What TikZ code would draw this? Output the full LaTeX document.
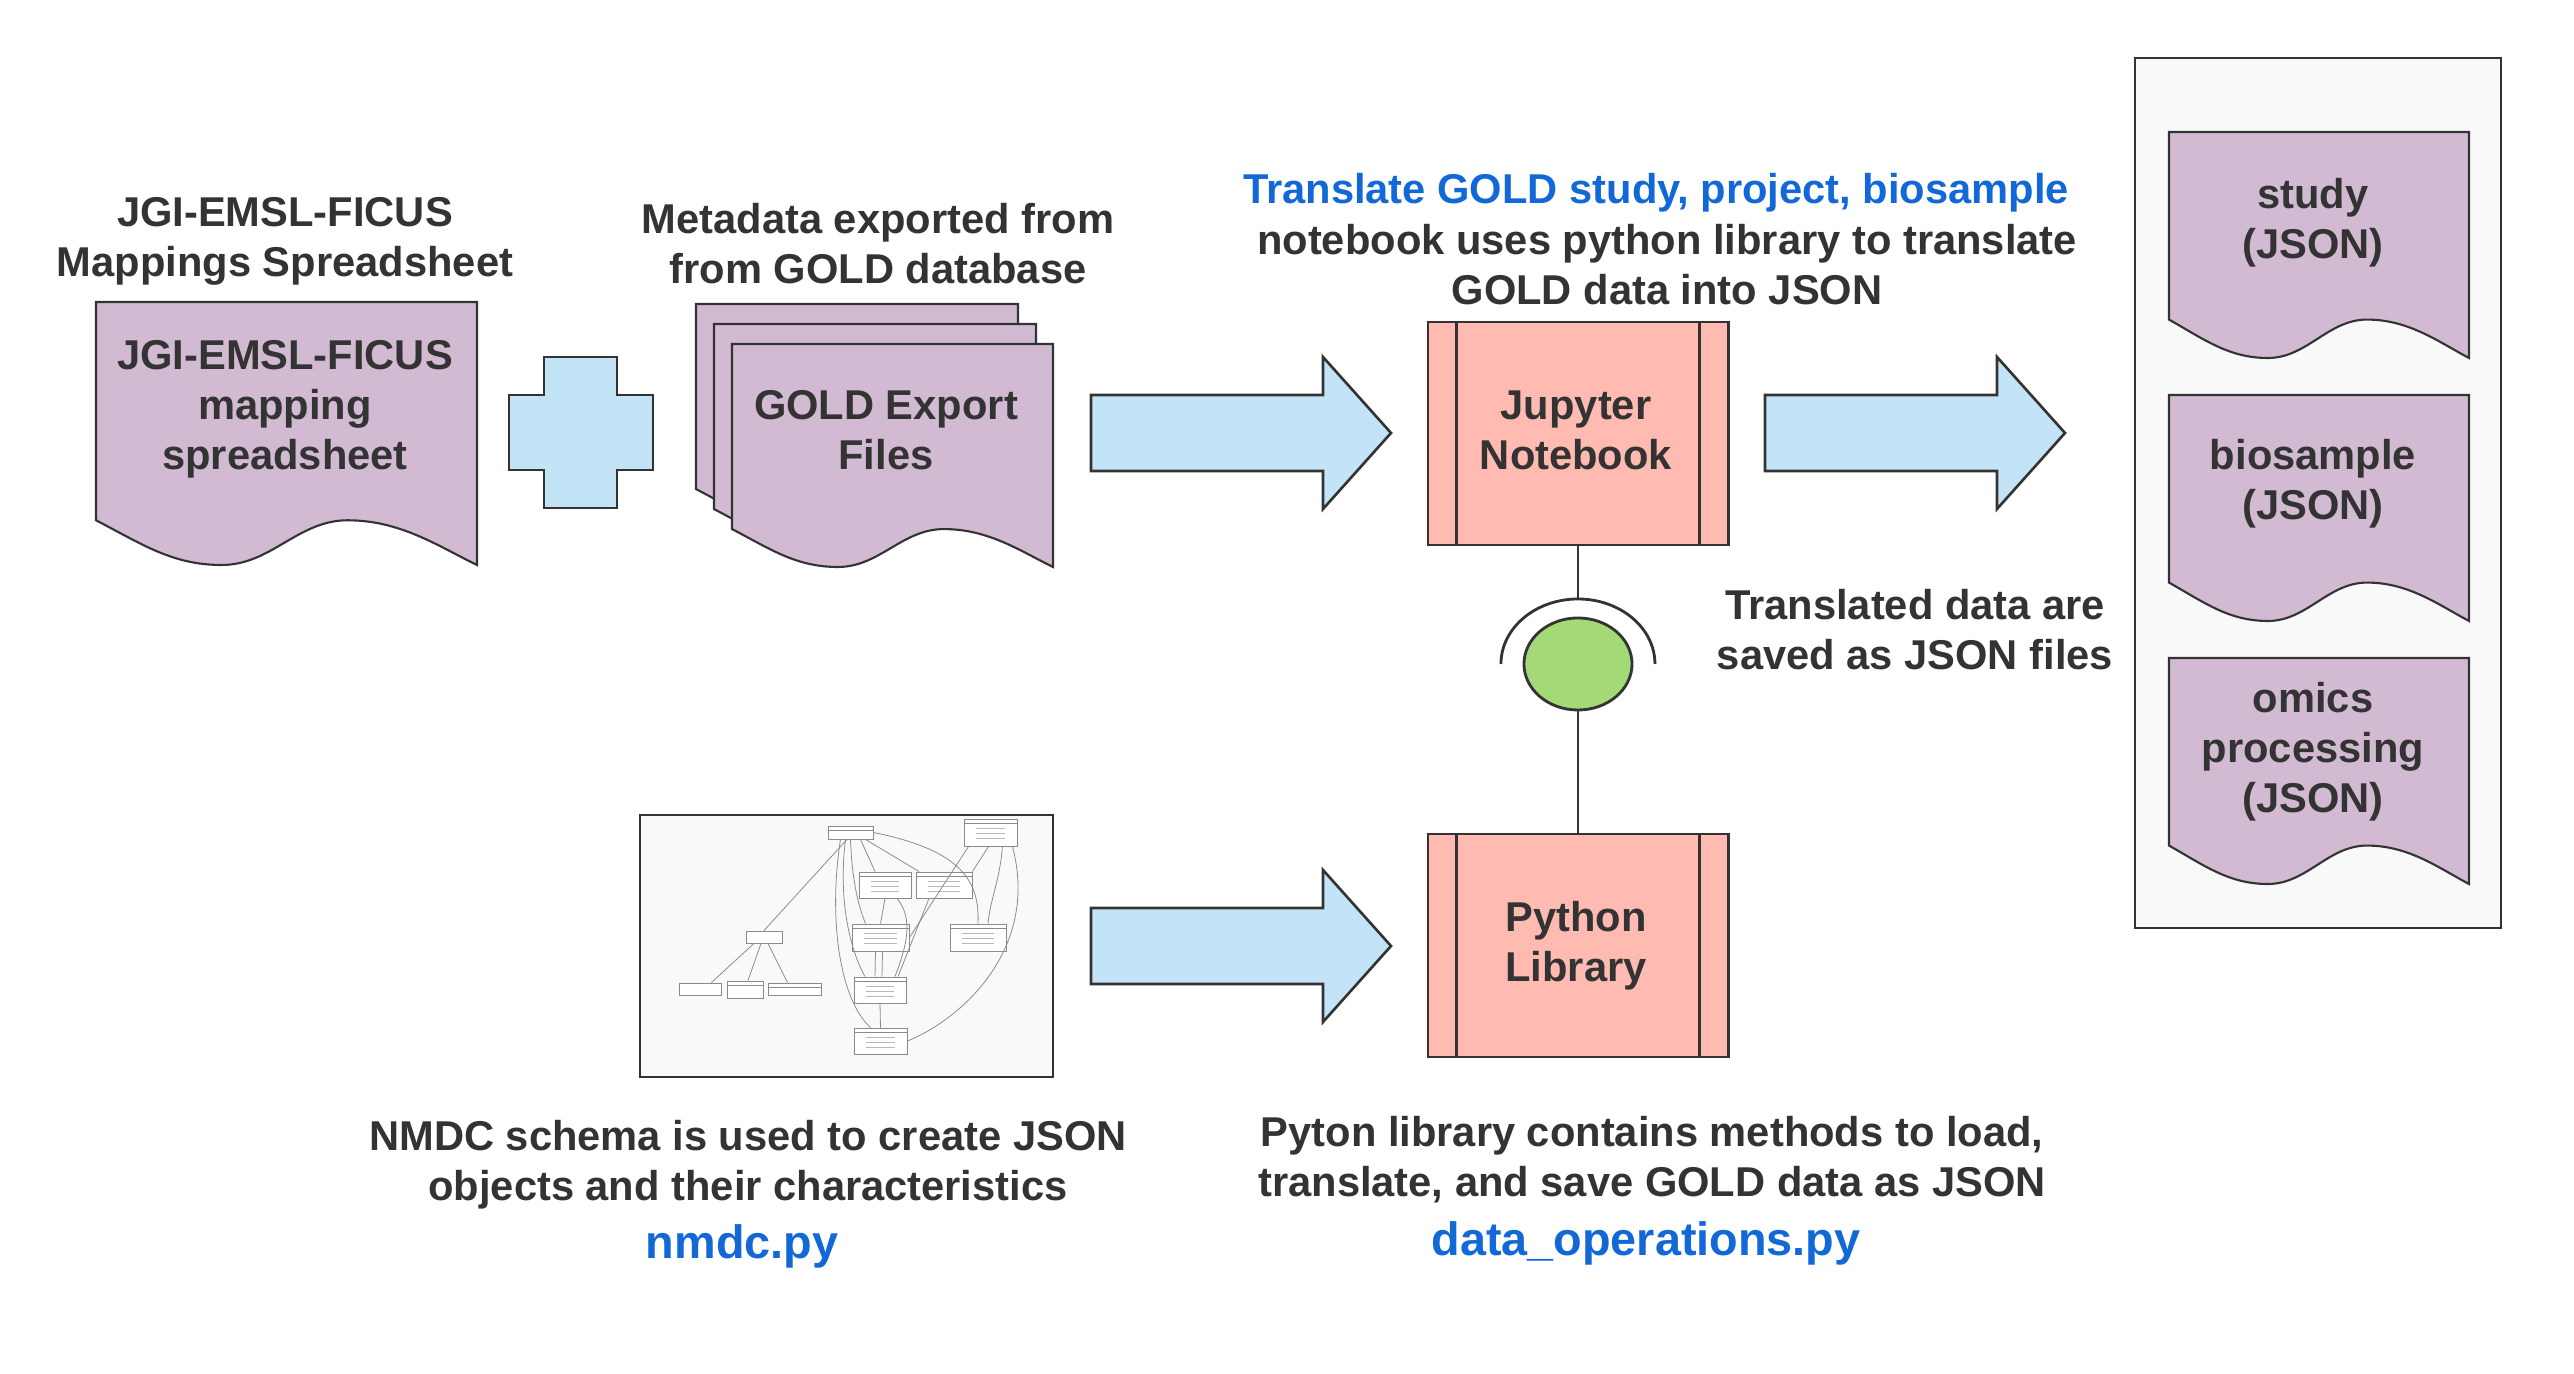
\documentclass[tikz,border=0pt]{standalone}
\usepackage{fontspec}
\setmainfont{Liberation Sans}
\usetikzlibrary{shapes.geometric}
\definecolor{ink}{HTML}{333333}
\definecolor{docpurple}{HTML}{D2BAD2}
\definecolor{salmon}{HTML}{FFBBB1}
\definecolor{lblue}{HTML}{C3E4F6}
\definecolor{lgreen}{HTML}{A3D977}
\definecolor{pane}{HTML}{F9F9F9}
\definecolor{linkblue}{HTML}{1368D8}
\definecolor{schemagray}{HTML}{8A8A8A}
\tikzset{
  docstyle/.style={fill=docpurple, draw=ink, line width=0.6pt},
  arrstyle/.style={fill=lblue, draw=ink, line width=0.75pt, line join=miter},
  pics/docshape/.style 2 args={code={
    \path[docstyle] (0,0) -- (#1,0) -- (#1,#2)
      .. controls ({0.9*#1},{0.93*#2}) and ({0.8*#1},{0.83*#2}) .. ({0.66*#1},{0.83*#2})
      .. controls ({0.53*#1},{0.83*#2}) and ({0.46*#1},{#2}) .. ({0.33*#1},{#2})
      .. controls ({0.2*#1},{#2}) and ({0.12*#1},{0.92*#2}) .. (0,{0.83*#2}) -- cycle;
  }},
  pics/blockarrow/.style={code={
    \path[arrstyle] (0,-38) -- (232,-38) -- (232,-76) -- (300,0) -- (232,76) -- (232,38) -- (0,38) -- cycle;
  }}
}
\begin{document}
\begin{tikzpicture}[x=0.01cm,y=-0.01cm,
  txt/.style={font=\fontsize{11.85}{14.2}\selectfont\bfseries, text=ink, align=center, inner sep=0pt},
  bluetxt/.style={txt, text=linkblue},
  bigblue/.style={bluetxt, font=\fontsize{13.3}{16}\selectfont\bfseries},
  procbox/.style={fill=salmon, draw=ink, line width=0.8pt, minimum width=3cm, minimum height=2.23cm, inner sep=0pt},
  conn/.style={draw=ink, line width=0.8pt},
  tinybox/.style={draw=schemagray, fill=white, line width=0.25pt, inner sep=0pt, rectangle},
  tinyline/.style={draw=schemagray, line width=0.22pt}
]
\useasboundingbox[fill=white] (0,0) rectangle (2574,1374);

% ---- left spreadsheet document
\node[txt] (hdrmap) at (285,241) {JGI-EMSL-FICUS\\Mappings Spreadsheet};
\pic at (96,302) {docshape={381}{263}};
\node[txt] (docmap) at (285,409) {JGI-EMSL-FICUS\\mapping\\spreadsheet};

% ---- plus sign
\path[arrstyle] (544,357) -- (617,357) -- (617,395) -- (653,395) -- (653,470) -- (617,470)
  -- (617,508) -- (544,508) -- (544,470) -- (509,470) -- (509,395) -- (544,395) -- cycle;

% ---- GOLD export files (stack)
\node[txt] (hdrgold) at (878,244) {Metadata exported from\\from GOLD database};
\pic at (696,304) {docshape={322}{223}};
\pic at (714,324) {docshape={322}{223}};
\pic at (732,344) {docshape={321}{223}};
\node[txt] (docgold) at (886,430) {GOLD Export\\Files};

% ---- block arrows
\pic at (1091,433) {blockarrow};
\pic at (1765,433) {blockarrow};
\pic at (1091,946) {blockarrow};

% ---- Jupyter notebook
\node[bluetxt] (hdrblue) at (1656,193) {Translate GOLD study, project, biosample};
\node[txt] (hdrjup) at (1667,265) {notebook uses python library to translate\\GOLD data into JSON};
\node[procbox] (jup) at (1578,433.5) {};
\node[txt] (juptxt) at (1576,430) {Jupyter\\Notebook};
\draw[conn] ([xshift=0.3cm]jup.north west) -- ([xshift=0.3cm]jup.south west);
\draw[conn] ([xshift=-0.3cm]jup.north east) -- ([xshift=-0.3cm]jup.south east);

% ---- lollipop interface
\node[ellipse, fill=lgreen, draw=ink, line width=0.8pt, minimum width=1.08cm, minimum height=0.92cm, inner sep=0pt] (ball) at (1578,664) {};
\coordinate (sockettop) at (1578,599);
\draw[conn] ([xshift=-0.77cm]ball.center) arc[start angle=180, end angle=360, x radius=77, y radius=65];
\draw[conn] (jup.south) -- (sockettop);

% ---- Python library
\node[procbox] (py) at (1578,945.5) {};
\node[txt] (pytxt) at (1576,946) {Python\\Library};
\draw[conn] ([xshift=0.3cm]py.north west) -- ([xshift=0.3cm]py.south west);
\draw[conn] ([xshift=-0.3cm]py.north east) -- ([xshift=-0.3cm]py.south east);
\draw[conn] (ball.south) -- (py.north);

\node[txt] (savednote) at (1915,630) {Translated data are\\saved as JSON files};

% ---- JSON output pane
\path[fill=pane, draw=ink, line width=0.8pt] (2135,58) rectangle (2501,928);
\pic at (2169,132) {docshape={300}{226}};
\pic at (2169,395) {docshape={300}{226}};
\pic at (2169,658) {docshape={300}{226}};
\node[txt] (jstudy) at (2313,223) {study\\(JSON)};
\node[txt] (jbio) at (2313,484) {biosample\\(JSON)};
\node[txt] (jomics) at (2313,752) {omics\\processing\\(JSON)};

% ---- NMDC schema thumbnail
\path[fill=pane, draw=ink, line width=0.6pt] (640,815) rectangle (1053,1077);
\node[tinybox, minimum width=0.45cm, minimum height=0.13cm] (sAnn) at (850.5,832.5) {};
\node[tinybox, minimum width=0.53cm, minimum height=0.27cm] (sNamed) at (990.5,832.5) {};
\node[tinybox, minimum width=0.52cm, minimum height=0.26cm] (sBio) at (885,885) {};
\node[tinybox, minimum width=0.56cm, minimum height=0.26cm] (sData) at (944,885) {};
\node[tinybox, minimum width=0.36cm, minimum height=0.12cm] (sAttr) at (764,937) {};
\node[tinybox, minimum width=0.57cm, minimum height=0.27cm] (sBP) at (880.5,937.5) {};
\node[tinybox, minimum width=0.56cm, minimum height=0.27cm] (sChar) at (978,937.5) {};
\node[tinybox, minimum width=0.42cm, minimum height=0.12cm] (sCTV) at (700,989) {};
\node[tinybox, minimum width=0.36cm, minimum height=0.17cm] (sGeo) at (745,989.5) {};
\node[tinybox, minimum width=0.53cm, minimum height=0.12cm] (sQV) at (794.5,989) {};
\node[tinybox, minimum width=0.52cm, minimum height=0.26cm] (sOmics) at (880,990) {};
\node[tinybox, minimum width=0.53cm, minimum height=0.26cm] (sStudy) at (880.5,1041) {};
\foreach \n in {sAnn,sNamed,sBio,sData,sBP,sChar,sGeo,sQV,sOmics,sStudy}{
  \draw[tinyline] ([yshift=-0.05cm]\n.north west) -- ([yshift=-0.05cm]\n.north east);
}
\foreach \n in {sNamed,sBio,sData,sBP,sChar,sOmics,sStudy}{
  \foreach \k in {1,2,3}{
    \draw[tinyline, draw=schemagray!60] ([xshift=0.12cm,yshift=-0.05cm-\k*0.05cm]\n.north west) -- ([xshift=-0.12cm,yshift=-0.05cm-\k*0.05cm]\n.north east);
  }
}
\draw[tinyline] (sAttr.north) -- ([xshift=-0.035cm]sAnn.south);
\draw[tinyline] ([xshift=-0.1cm]sCTV.north east) -- ([xshift=-0.1cm]sAttr.south);
\draw[tinyline] ([xshift=0.03cm]sGeo.north) -- ([xshift=-0.03cm]sAttr.south);
\draw[tinyline] ([xshift=-0.07cm]sQV.north) -- ([xshift=0.04cm]sAttr.south);
\draw[tinyline] ([xshift=0.1cm]sAnn.south) -- ([xshift=-0.1cm]sBio.north);
\draw[tinyline] ([xshift=0.15cm]sAnn.south) -- ([xshift=-0.25cm]sData.north);
\draw[tinyline] (sAnn.east) .. controls (960,850) and (980,880) .. (sChar.north);
\draw[tinyline] ([xshift=0.05cm]sNamed.south west) -- (sBP.east);
\draw[tinyline] ([xshift=0.25cm]sNamed.south west) -- (sData.north east);
\draw[tinyline] ([xshift=-0.15cm]sNamed.south east) .. controls (1000,880) and (990,900) .. ([xshift=0.1cm]sChar.north);
\draw[tinyline] ([xshift=-0.05cm]sNamed.south east) .. controls (1040,950) and (960,1020) .. (sStudy.east);
\draw[tinyline] (sBio.south) -- (sBP.north);
\draw[tinyline] ([xshift=0.12cm]sBio.south) .. controls (915,920) and (905,950) .. ([xshift=0.15cm]sOmics.north);
\draw[tinyline] ([xshift=-0.15cm]sData.south) -- ([xshift=0.18cm]sOmics.north);
\draw[tinyline] ([xshift=-0.05cm]sBP.south) -- ([xshift=-0.05cm]sOmics.north);
\draw[tinyline] ([xshift=0.02cm]sBP.south) -- ([xshift=0.02cm]sOmics.north);
\draw[tinyline] (sOmics.south) -- (sStudy.north);
\draw[tinyline] ([xshift=-0.1cm]sAnn.south) .. controls (828,920) and (840,1000) .. ([xshift=-0.1cm]sStudy.north);
\draw[tinyline] ([xshift=-0.05cm]sAnn.south) .. controls (838,900) and (850,950) .. ([xshift=-0.15cm]sOmics.north);
\draw[tinyline] (sAnn.south) .. controls (852,880) and (858,905) .. ([xshift=-0.15cm]sBP.north);

\node[txt] (nmdcnote) at (748,1165) {NMDC schema is used to create JSON\\objects and their characteristics};
\node[bigblue] (nmdcpy) at (742,1246) {nmdc.py};

\node[txt] (pynote) at (1652,1160) {Pyton library contains methods to load,\\translate, and save GOLD data as JSON};
\node[bigblue] (dataops) at (1646,1243) {data\_operations.py};
\end{tikzpicture}
\end{document}
